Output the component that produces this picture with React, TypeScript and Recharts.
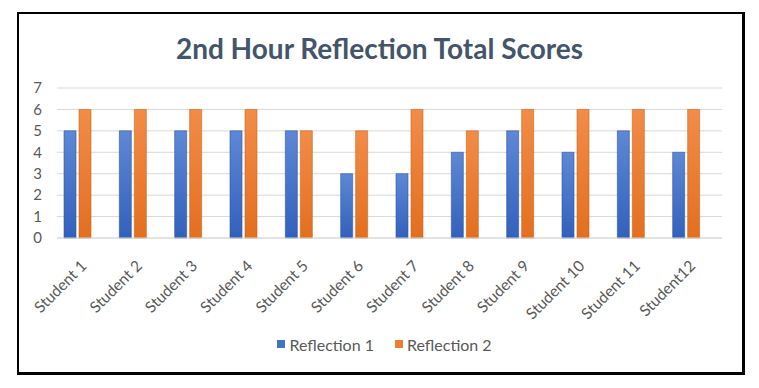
import { BarChart, Bar, XAxis, YAxis, CartesianGrid, Legend } from "recharts";

const students = [
  "Student 1",
  "Student 2",
  "Student 3",
  "Student 4",
  "Student 5",
  "Student 6",
  "Student 7",
  "Student 8",
  "Student 9",
  "Student 10",
  "Student 11",
  "Student12",
];
const reflection1 = [5, 5, 5, 5, 5, 3, 3, 4, 5, 4, 5, 4];
const reflection2 = [6, 6, 6, 6, 5, 5, 6, 5, 6, 6, 6, 6];
const yTicks = [0, 1, 2, 3, 4, 5, 6, 7];

const data = students.map((name, i) => ({
  name,
  r1: reflection1[i],
  r2: reflection2[i],
}));

const FONT = "Lato, 'Open Sans', sans-serif";
const GRAY = "#595959";

// rotated category labels, like excel does when they don't fit
function StudentTick({ x, y, payload }: any) {
  const tx = x + 10;
  const ty = y + 21;
  return (
    <text
      x={tx}
      y={ty}
      transform={`rotate(-45, ${tx}, ${ty})`}
      textAnchor="end"
      fill={GRAY}
      fontSize={15.5}
      fontFamily={FONT}
    >
      {payload.value}
    </text>
  );
}

function SimpleLegend() {
  const items = [
    { label: "Reflection 1", color: "#4472C4" },
    { label: "Reflection 2", color: "#ED7D31" },
  ];
  return (
    <div
      style={{
        height: 24,
        paddingLeft: 30,
        display: "flex",
        justifyContent: "center",
        alignItems: "center",
        gap: 21,
        fontFamily: FONT,
        fontSize: 16,
        color: GRAY,
      }}
    >
      {items.map((it) => (
        <span key={it.label} style={{ display: "flex", alignItems: "center" }}>
          <span
            style={{
              width: 8,
              height: 8,
              background: it.color,
              marginRight: 4,
              display: "inline-block",
            }}
          />
          {it.label}
        </span>
      ))}
    </div>
  );
}

export default function App() {
  return (
    <div
      style={{
        position: "absolute",
        left: 0,
        top: 0,
        width: 759,
        height: 388,
        background: "#fff",
      }}
    >
      {/* black frame around the pasted chart */}
      <div
        style={{
          position: "absolute",
          left: 17,
          top: 12,
          width: 723,
          height: 358,
          borderStyle: "solid",
          borderColor: "#000",
          borderWidth: "2px 3px 3px 2px",
        }}
      />
      <div
        style={{
          position: "absolute",
          left: 0,
          top: 31,
          width: 759,
          textAlign: "center",
          fontFamily: FONT,
          fontWeight: 700,
          fontSize: 28,
          color: "#44546A",
        }}
      >
        2nd Hour Reflection Total Scores
      </div>
      <div style={{ position: "absolute", left: 0, top: 0 }}>
        <BarChart
          width={759}
          height={388}
          data={data}
          margin={{ top: 88, right: 37, bottom: 32, left: 17 }}
          barSize={12}
          barGap={3}
          barCategoryGap={14}
        >
          <defs>
            <linearGradient id="blueGrad" x1="0" y1="0" x2="0" y2="1">
              <stop offset="0%" stopColor="#5E88D5" />
              <stop offset="100%" stopColor="#3261BC" />
            </linearGradient>
            <linearGradient id="orangeGrad" x1="0" y1="0" x2="0" y2="1">
              <stop offset="0%" stopColor="#F28C48" />
              <stop offset="100%" stopColor="#E36F1F" />
            </linearGradient>
          </defs>
          <CartesianGrid vertical={false} stroke="#D9D9D9" strokeWidth={1} />
          <XAxis
            dataKey="name"
            interval={0}
            height={94}
            tick={<StudentTick />}
            tickLine={false}
            axisLine={{ stroke: "#D9D9D9" }}
            padding={{ left: -7, right: 8 }}
          />
          <YAxis
            domain={[0, 7]}
            ticks={yTicks}
            interval={0}
            width={40}
            axisLine={false}
            tickLine={false}
            tickSize={0}
            tickMargin={15}
            tick={{ fill: GRAY, fontSize: 15, fontFamily: FONT }}
          />
          <Legend verticalAlign="bottom" content={<SimpleLegend />} />
          <Bar
            dataKey="r1"
            name="Reflection 1"
            fill="url(#blueGrad)"
            stroke="#2F55A0"
            strokeWidth={0.6}
            isAnimationActive={false}
          />
          <Bar
            dataKey="r2"
            name="Reflection 2"
            fill="url(#orangeGrad)"
            stroke="#C9651F"
            strokeWidth={0.6}
            isAnimationActive={false}
          />
        </BarChart>
      </div>
    </div>
  );
}
